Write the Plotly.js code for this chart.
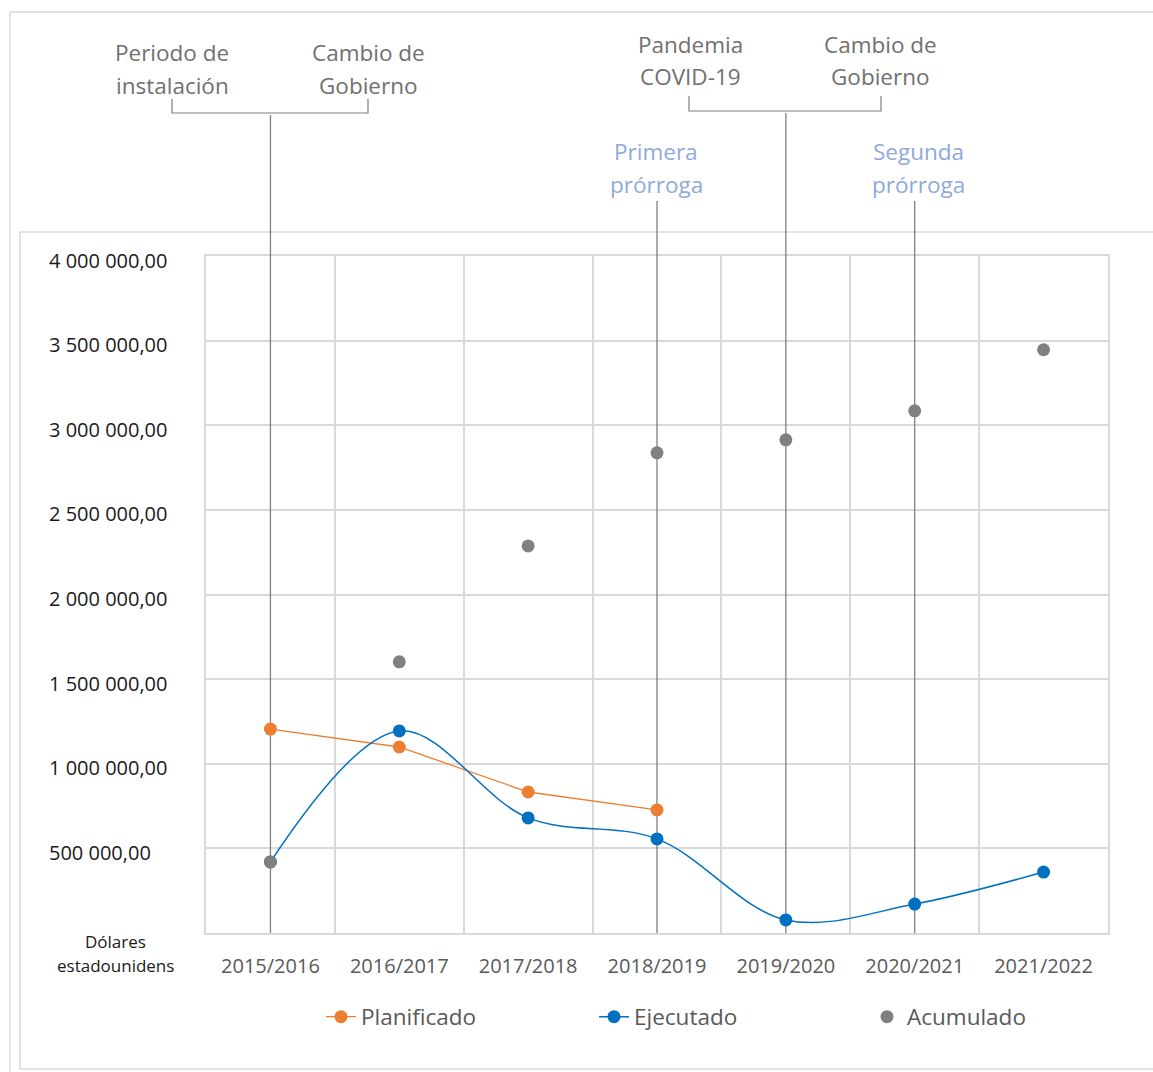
<!DOCTYPE html>
<html>
<head>
<meta charset="utf-8">
<script src="https://cdn.plot.ly/plotly-3.0.1.min.js"></script>
<style>html,body{margin:0;padding:0;background:#fff;}#chart{width:1153px;height:1072px;}</style>
</head>
<body>
<div id="chart"></div>
<script>
const categories = ["2015/2016","2016/2017","2017/2018","2018/2019","2019/2020","2020/2021","2021/2022"];
const planificado = [1205000, 1099000, 833000, 727000, null, null, null];
const ejecutado = [420000, 1194000, 680000, 556000, 77000, 171000, 360000];
const acumulado = [420000, 1602000, 2287000, 2837000, 2914000, 3085000, 3446000];
const yTickValues = [500000, 1000000, 1500000, 2000000, 2500000, 3000000, 3500000, 4000000];
const yTickLabels = ["500 000,00","1 000 000,00","1 500 000,00","2 000 000,00","2 500 000,00","3 000 000,00","3 500 000,00","4 000 000,00"];
const eventLines = ["2015/2016","2019/2020","2018/2019","2020/2021"];

const FONT = "Open Sans, Noto Sans, sans-serif";
const W = 1153, H = 1072;
const M = {l:206, r:45, t:256, b:139};
const PW = W - M.l - M.r, PH = H - M.t - M.b;
const px = x => (x - M.l) / PW;
const py = y => (M.t + PH - y) / PH;

const traces = [
  {name:"Planificado", x:categories, y:planificado, type:"scatter", mode:"lines+markers",
   line:{color:"#ED7D31", width:1.3}, marker:{color:"#ED7D31", size:13}, connectgaps:false},
  {name:"Ejecutado", x:categories, y:ejecutado, type:"scatter", mode:"lines+markers",
   line:{color:"#0070C0", width:1.5, shape:"spline", smoothing:1}, marker:{color:"#0070C0", size:13}},
  {name:"Acumulado", x:categories, y:acumulado, type:"scatter", mode:"markers",
   marker:{color:"#808080", size:13}}
];

const grey = "#707070";
const shapes = [];
shapes.push({type:"rect", xref:"paper", yref:"paper", x0:px(10), x1:px(1200), y0:py(1200), y1:py(12), line:{color:"#d9d9d9", width:1.3}, layer:"below"});
shapes.push({type:"rect", xref:"paper", yref:"paper", x0:px(20), x1:px(1200), y0:py(1069), y1:py(232), line:{color:"#d9d9d9", width:1.5}, layer:"below"});
const lineTops = [115, 113, 201, 201];
eventLines.forEach((c, i) => {
  shapes.push({type:"line", xref:"x", yref:"y", x0:c, x1:c, y0:0, y1:4000000, line:{color:"#7f7f7f", width:1.3}, layer:"between"});
  shapes.push({type:"line", xref:"x", yref:"paper", x0:c, x1:c, y0:1, y1:py(lineTops[i]), line:{color:"#7f7f7f", width:1.3}, layer:"above"});
});
shapes.push({type:"path", xref:"paper", yref:"paper",
  path:`M ${px(172)} ${py(99)} L ${px(172)} ${py(113)} L ${px(368)} ${py(113)} L ${px(368)} ${py(99)}`,
  line:{color:"#7f7f7f", width:1.2}});
shapes.push({type:"path", xref:"paper", yref:"paper",
  path:`M ${px(689)} ${py(96)} L ${px(689)} ${py(111)} L ${px(881)} ${py(111)} L ${px(881)} ${py(96)}`,
  line:{color:"#7f7f7f", width:1.2}});

const annotations = [];
yTickValues.forEach((v, i) => {
  annotations.push({xref:"paper", yref:"y", x:px(47), y:v, xanchor:"left", yanchor:"middle", yshift:-4,
    text:yTickLabels[i], showarrow:false, font:{family:FONT, size:20, color:"#1a1a1a"}});
});
annotations.push({xref:"paper", yref:"paper", x:px(115), y:py(941), xanchor:"center", yanchor:"middle",
  text:"Dólares", showarrow:false, font:{family:FONT, size:17, color:"#1a1a1a"}});
annotations.push({xref:"paper", yref:"paper", x:px(115), y:py(965), xanchor:"center", yanchor:"middle",
  text:"estadounidens", showarrow:false, font:{family:FONT, size:17, color:"#1a1a1a"}});
const topTexts = [
  {t:["Periodo de","instalación"], x:172, y:53, c:grey},
  {t:["Cambio de","Gobierno"], x:368, y:53, c:grey},
  {t:["Pandemia","COVID-19"], x:690, y:45, c:grey},
  {t:["Cambio de","Gobierno"], x:880, y:45, c:grey},
  {t:["Primera","prórroga"], x:656, y:152, c:"#8EA9DB"},
  {t:["Segunda","prórroga"], x:918, y:152, c:"#8EA9DB"}
];
topTexts.forEach(o => o.t.forEach((line, k) => annotations.push({xref:"paper", yref:"paper", x:px(o.x), y:py(o.y + 32*k),
  xanchor:"center", yanchor:"middle", text:line, showarrow:false,
  font:{family:FONT, size:22.5, color:o.c}})));

const layout = {
  width:W, height:H, margin:M,
  paper_bgcolor:"#ffffff", plot_bgcolor:"rgba(0,0,0,0)",
  font:{family:FONT},
  showlegend:true,
  legend:{orientation:"h", x:px(321), xanchor:"left", y:py(1017), yanchor:"middle",
    font:{family:FONT, size:22.5, color:"#595959"}, entrywidth:228, bgcolor:"rgba(0,0,0,0)"},
  xaxis:{type:"category", categoryarray:categories, range:[-0.5, 6.5], tickson:"boundaries",
    showgrid:true, gridcolor:"#d9d9d9", gridwidth:2, ticks:"", showline:true, mirror:true,
    linecolor:"#d9d9d9", linewidth:2, zeroline:false,
    tickfont:{family:FONT, size:20, color:"#595959"}, ticklabelstandoff:14},
  yaxis:{range:[0, 4000000], tick0:0, dtick:500000, showgrid:true, gridcolor:"#d9d9d9", gridwidth:2,
    showticklabels:false, showline:true, mirror:true, linecolor:"#d9d9d9", linewidth:2, zeroline:false},
  shapes:shapes, annotations:annotations
};
Plotly.newPlot("chart", traces, layout, {displayModeBar:false, staticPlot:true});
</script>
</body>
</html>
